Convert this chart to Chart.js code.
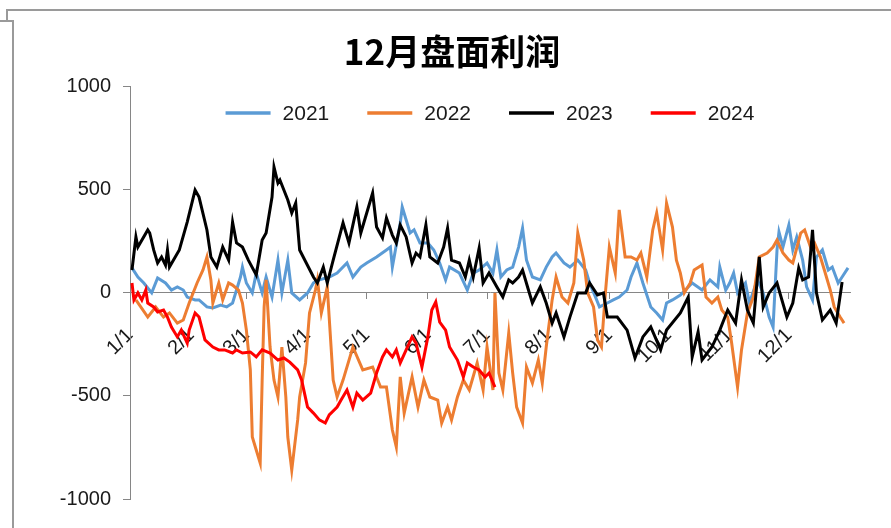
<!DOCTYPE html>
<html>
<head>
<meta charset="utf-8">
<script src="https://cdn.jsdelivr.net/npm/chart.js@4.4.1/dist/chart.umd.min.js"></script>
<style>
  html, body { margin: 0; padding: 0; background: #fff; }
  body { width: 891px; height: 528px; position: relative; overflow: hidden; }
  .frame { position: absolute; border: 0 solid #9a9a9a; }
  #profitChart { position: absolute; left: 0; top: 0; }
</style>
</head>
<body>
<div class="frame" style="left:6px;top:9px;right:0;border-top-width:2px;"></div>
<div class="frame" style="left:6px;top:9px;height:11px;border-left-width:2px;"></div>
<div class="frame" style="left:0;top:20px;width:13px;border-top-width:2px;"></div>
<div class="frame" style="left:12px;top:20px;bottom:0;border-left-width:2px;"></div>
<canvas id="profitChart" width="891" height="528"></canvas>
<script>
// day of year -> profit, one list per contract year
const profit2021 = [[1,119],[4,75],[7,46],[11,-2],[14,70],[18,46],[21,12],[24,27],[27,12],[29,-22],[33,-36],[35,-36],[39,-70],[42,-75],[46,-61],[49,-70],[52,-51],[56,75],[57,123],[59,46],[62,-2],[64,94],[67,-2],[69,75],[72,-22],[75,157],[77,-2],[80,157],[82,-2],[86,-36],[90,-2],[93,46],[96,61],[101,75],[105,94],[110,143],[113,75],[117,123],[120,143],[125,172],[130,206],[132,220],[133,123],[137,337],[138,414],[142,288],[144,303],[147,240],[151,240],[154,206],[157,143],[160,61],[162,123],[167,94],[171,12],[174,94],[177,109],[181,143],[184,94],[186,206],[188,75],[191,109],[194,123],[197,220],[199,312],[201,157],[204,75],[208,61],[211,123],[214,172],[216,191],[220,143],[223,123],[227,157],[231,109],[233,46],[236,-22],[238,-70],[242,-51],[245,-36],[248,-22],[252,12],[254,75],[257,143],[260,46],[264,-70],[267,-99],[270,-133],[272,-51],[275,-36],[279,-12],[285,46],[290,12],[294,61],[298,27],[299,123],[302,12],[304,46],[306,94],[308,-2],[312,46],[314,-51],[318,61],[321,-2],[324,-119],[326,-167],[328,206],[329,293],[331,220],[334,327],[336,206],[338,269],[341,157],[343,27],[346,-36],[348,172],[351,206],[354,109],[356,123],[359,46],[361,75],[364,119]];

const profit2022 = [[3,-36],[9,-119],[13,-70],[17,-119],[20,-99],[24,-148],[27,-133],[30,-51],[34,46],[37,109],[39,172],[41,61],[42,-51],[45,46],[47,-36],[50,46],[52,36],[55,12],[57,-51],[59,-182],[61,-375],[62,-700],[64,-763],[66,-826],[67,-424],[68,-70],[69,61],[71,-264],[73,-424],[75,-506],[77,-264],[79,-506],[80,-700],[82,-860],[85,-617],[86,-506],[89,-341],[91,-99],[94,12],[95,61],[97,-99],[100,27],[103,-424],[105,-506],[108,-424],[113,-264],[118,-375],[123,-361],[127,-458],[130,-458],[133,-666],[135,-748],[137,-409],[139,-584],[143,-409],[146,-555],[149,-424],[152,-506],[156,-521],[158,-632],[161,-555],[163,-617],[166,-506],[169,-424],[172,-472],[176,-341],[179,-472],[181,-264],[184,-472],[185,-2],[187,-390],[189,-472],[192,-196],[194,-390],[196,-555],[199,-632],[201,-361],[204,-438],[207,-327],[209,-438],[211,-264],[214,-36],[216,75],[219,-22],[222,-51],[225,46],[227,288],[230,157],[232,-2],[235,-70],[237,-230],[239,-264],[241,-2],[243,220],[246,94],[248,400],[251,172],[254,172],[257,157],[259,191],[262,75],[265,303],[267,385],[270,206],[272,433],[275,317],[277,157],[279,94],[281,-2],[284,46],[286,109],[290,133],[292,-22],[295,-51],[298,-22],[300,-85],[303,-119],[305,-245],[308,-458],[310,-278],[313,-99],[316,-22],[319,172],[323,191],[326,220],[328,254],[331,191],[334,157],[336,143],[340,288],[342,303],[345,220],[347,240],[350,172],[352,109],[355,12],[357,-70],[360,-119],[362,-148]];

const profit2023 = [[1,109],[3,269],[4,220],[9,303],[10,288],[12,206],[14,143],[16,172],[18,133],[19,206],[20,123],[25,206],[29,341],[33,496],[35,462],[39,303],[41,172],[44,123],[47,220],[50,157],[52,341],[54,240],[57,220],[60,157],[64,85],[67,254],[69,288],[72,462],[73,608],[75,530],[76,545],[80,448],[82,385],[84,433],[86,206],[93,75],[95,46],[98,123],[100,46],[103,157],[108,337],[111,240],[115,414],[117,288],[123,482],[125,317],[128,264],[130,361],[133,278],[135,240],[137,327],[140,269],[143,143],[145,191],[147,172],[150,327],[152,172],[156,143],[159,220],[161,312],[163,157],[167,143],[170,75],[172,157],[174,75],[177,215],[179,46],[182,94],[186,27],[189,-22],[192,61],[194,46],[197,75],[199,109],[202,12],[204,-51],[208,27],[211,-51],[214,-148],[216,-99],[220,-215],[223,-119],[227,-2],[231,-2],[233,46],[237,-12],[240,-2],[242,-119],[247,-119],[252,-182],[256,-317],[260,-215],[264,-167],[269,-278],[272,-182],[279,-99],[283,-22],[285,-312],[288,-191],[290,-327],[295,-264],[299,-182],[303,-85],[307,-148],[310,61],[313,-85],[316,-148],[319,172],[321,-70],[324,-2],[328,46],[333,-119],[336,-51],[339,119],[341,61],[344,75],[346,303],[348,-2],[351,-133],[355,-85],[358,-148],[361,51]];

const profit2024 = [[1,46],[2,-36],[4,-2],[6,-36],[8,12],[9,-51],[12,-70],[14,-94],[17,-85],[19,-119],[21,-167],[24,-215],[26,-182],[29,-245],[30,-182],[33,-99],[35,-119],[38,-230],[42,-264],[45,-278],[48,-278],[52,-293],[54,-278],[57,-293],[61,-288],[64,-312],[67,-278],[71,-293],[75,-327],[78,-317],[81,-337],[85,-375],[87,-424],[90,-555],[93,-584],[96,-617],[99,-632],[101,-593],[105,-555],[107,-521],[110,-472],[113,-555],[115,-487],[118,-521],[122,-487],[125,-390],[128,-312],[130,-278],[133,-312],[135,-278],[137,-341],[140,-278],[143,-215],[145,-245],[148,-361],[151,-215],[153,-85],[155,-46],[157,-143],[160,-182],[162,-264],[166,-327],[169,-409],[171,-341],[174,-361],[177,-375],[180,-409],[182,-390],[185,-458]];

const years = ['2021', '2022', '2023', '2024'];
const colors = ['#5B9BD5', '#ED7D31', '#000000', '#FF0000'];
const monthStarts = [0, 31, 59, 90, 120, 151, 181, 212, 243, 273, 304, 334];
const monthLabels = ['1/1', '2/1', '3/1', '4/1', '5/1', '6/1', '7/1', '8/1', '9/1', '10/1', '11/1', '12/1'];
const yTicks = [-1000, -500, 0, 500, 1000];

const axisColor = '#868686';
const textColor = '#1a1a1a';
const labelFont = { family: '"Liberation Sans", Arial, sans-serif', size: 20 };

// legend sits inside the plot, under the title
const lineLegend = {
    id: 'lineLegend',
    afterDatasetsDraw(chart) {
        const ctx = chart.ctx;
        const sets = chart.data.datasets;
        const sample = 45, gap = 12, spacing = 38;
        ctx.save();
        ctx.font = `21px ${labelFont.family}`;
        ctx.textBaseline = 'middle';
        const widths = sets.map(ds => sample + gap + ctx.measureText(ds.label).width);
        const total = widths.reduce((a, b) => a + b, 0) + spacing * (sets.length - 1);
        let x = (chart.chartArea.left + chart.chartArea.right) / 2 - total / 2;
        const y = chart.chartArea.top + 27;
        sets.forEach((ds, i) => {
            ctx.strokeStyle = ds.borderColor;
            ctx.lineWidth = 3.5;
            ctx.beginPath();
            ctx.moveTo(x, y);
            ctx.lineTo(x + sample, y);
            ctx.stroke();
            ctx.fillStyle = textColor;
            ctx.fillText(ds.label, x + sample + gap, y + 1);
            x += widths[i] + spacing;
        });
        ctx.restore();
    }
};

const series = [profit2021, profit2022, profit2023, profit2024];

new Chart(document.getElementById('profitChart'), {
    type: 'line',
    data: {
        datasets: series.map((rows, i) => ({
            label: years[i],
            data: rows.map(([d, v]) => ({ x: d, y: v })),
            borderColor: colors[i],
            backgroundColor: colors[i],
            borderWidth: 3,
            pointRadius: 0,
            tension: 0,
            // later years are drawn on top
            order: series.length - 1 - i
        }))
    },
    options: {
        responsive: false,
        animation: false,
        layout: { padding: { left: 54, right: 41, top: 0, bottom: 29 } },
        plugins: {
            legend: { display: false },
            tooltip: { enabled: false },
            title: {
                display: true,
                text: '12月盘面利润',
                color: '#000',
                font: { family: '"Noto Sans CJK SC", sans-serif', size: 35, weight: 'bold' },
                padding: { top: 31, bottom: 13 }
            }
        },
        scales: {
            x: {
                type: 'linear',
                min: 0,
                max: 365,
                position: { y: 0 },
                afterBuildTicks: axis => { axis.ticks = monthStarts.map(v => ({ value: v })); },
                ticks: {
                    autoSkip: false,
                    minRotation: 45,
                    maxRotation: 45,
                    padding: 25,
                    color: textColor,
                    font: labelFont,
                    callback: (v, i) => monthLabels[i]
                },
                grid: { drawOnChartArea: false, drawTicks: true, tickLength: 6, color: axisColor },
                border: { color: axisColor, width: 1 }
            },
            y: {
                min: -1000,
                max: 1000,
                afterBuildTicks: axis => { axis.ticks = yTicks.map(v => ({ value: v })); },
                ticks: { color: textColor, font: labelFont, padding: 12, callback: v => String(v) },
                grid: { drawOnChartArea: false, drawTicks: true, tickLength: 7, color: axisColor },
                border: { color: axisColor, width: 1 },
                afterFit: scale => { scale.width = 76; }
            }
        }
    },
    plugins: [lineLegend]
});
</script>
</body>
</html>
